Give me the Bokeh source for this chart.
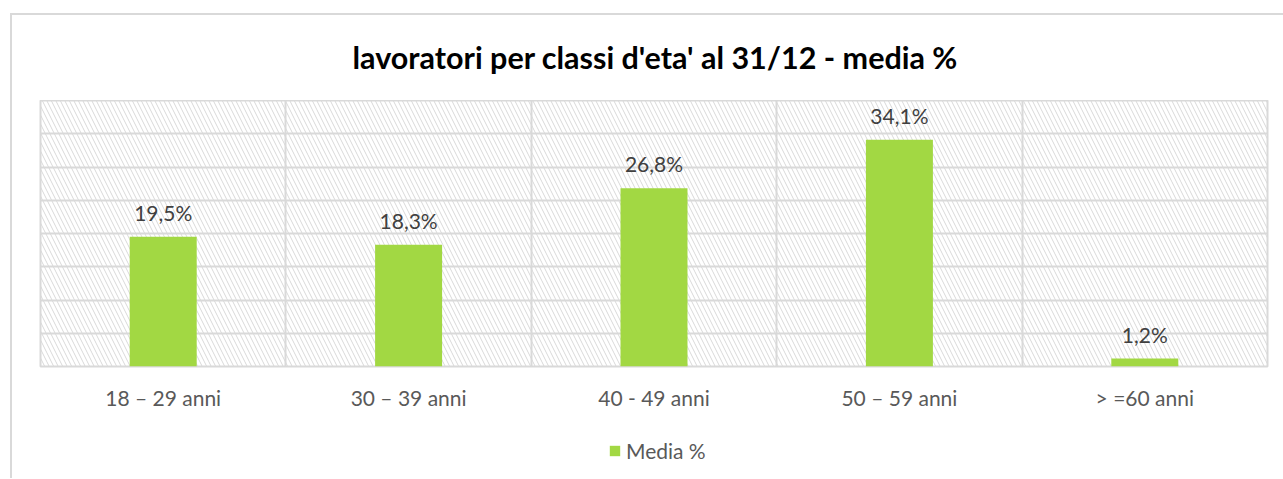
from bokeh.plotting import figure
from bokeh.layouts import column
from bokeh.models import (ColumnDataSource, FixedTicker, LabelSet, BoxAnnotation,
                          Legend, LegendItem, Range1d)
from bokeh.core.properties import value
from bokeh.embed import file_html
from bokeh.resources import INLINE

categories = ["18 – 29 anni", "30 – 39 anni", "40 - 49 anni", "50 – 59 anni", "> =60 anni"]
values = [19.5, 18.3, 26.8, 34.1, 1.2]
labels = ["19,5%", "18,3%", "26,8%", "34,1%", "1,2%"]
series_name = "Media %"
title_text = "lavoratori per classi d'eta' al 31/12 - media %"

FONT = "Lato"
GREEN = "#A2D843"
GRID = "#d9d9d9"

xs = [i + 0.5 for i in range(len(categories))]
src = ColumnDataSource(dict(x=xs, top=values, label=labels, cat=categories))

# ---- title strip ----
p0 = figure(frame_width=1271, frame_height=85, output_backend="svg", toolbar_location=None,
            x_range=Range1d(0, 1), y_range=Range1d(0, 1),
            min_border=0, min_border_left=0, min_border_right=0,
            min_border_top=0, min_border_bottom=0)
p0.styles = {"margin-left": "10px", "margin-top": "13px",
             "border-left": "2px solid #d9d9d9", "border-top": "2px solid #d9d9d9"}
p0.axis.visible = False
p0.grid.visible = False
p0.outline_line_color = None
p0.text(x=[0], y=[0.518], text=[title_text], text_align="left", x_offset=312,
        text_baseline="middle", text_font=value(FONT), text_font_style="bold",
        text_font_size="30.5px", text_color="#000000")

# ---- main chart ----
p = figure(frame_width=1225, frame_height=266, output_backend="svg", toolbar_location=None,
           x_range=Range1d(0, len(categories)), y_range=Range1d(0, 40),
           min_border_left=28, min_border_right=18, min_border_top=0,
           min_border_bottom=50)
p.styles = {"margin-left": "10px", "border-left": "2px solid #d9d9d9"}

# hatched plot background
p.add_layout(BoxAnnotation(fill_alpha=0, line_alpha=0, hatch_pattern="\\",
                           hatch_color="#d9d9d9", hatch_scale=9, hatch_weight=1,
                           hatch_alpha=1.0, level="underlay"))

p.outline_line_color = GRID
p.outline_line_width = 2

p.ygrid.ticker = FixedTicker(ticks=list(range(0, 41, 5)))
p.ygrid.grid_line_color = GRID
p.ygrid.grid_line_width = 2
p.xgrid.ticker = FixedTicker(ticks=list(range(0, len(categories) + 1)))
p.xgrid.grid_line_color = GRID
p.xgrid.grid_line_width = 2

r = p.vbar(x="x", top="top", width=0.273, bottom=0, source=src,
           fill_color=GREEN, line_color=None)

p.add_layout(LabelSet(x="x", y="top", text="label", source=src, text_align="center",
                      text_baseline="bottom", y_offset=12, text_font=value(FONT),
                      text_font_size=value("21px"), text_color=value("#404040")))

p.yaxis.visible = False
p.xaxis.ticker = FixedTicker(ticks=xs)
p.xaxis.major_label_overrides = {x: c for x, c in zip(xs, categories)}
p.xaxis.axis_line_color = None
p.xaxis.major_tick_line_color = None
p.xaxis.minor_tick_line_color = None
p.xaxis.major_label_standoff = 12
p.xaxis.major_label_text_font = FONT
p.xaxis.major_label_text_font_size = "21px"
p.xaxis.major_label_text_color = "#595959"

# ---- legend strip ----
p2 = figure(frame_width=1271, frame_height=62, output_backend="svg", toolbar_location=None,
            x_range=Range1d(0, 1), y_range=Range1d(0, 1),
            min_border=0, min_border_left=0, min_border_right=0,
            min_border_top=0, min_border_bottom=0)
p2.styles = {"margin-left": "10px", "border-left": "2px solid #d9d9d9"}
p2.axis.visible = False
p2.grid.visible = False
p2.outline_line_color = None
lr = p2.vbar(x="x", top="top", width=0.273, source=src, fill_color=GREEN, line_color=None)
lr.visible = False

legend = Legend(items=[LegendItem(label=series_name, renderers=[lr])],
                orientation="horizontal", location=(596, 15),
                label_text_font=FONT, label_text_font_size="21px",
                label_text_color="#595959", glyph_width=13, glyph_height=13,
                border_line_color=None, background_fill_alpha=0,
                inactive_fill_alpha=0, click_policy="none",
                label_standoff=5, margin=0, padding=4)
p2.add_layout(legend, "center")

layout = column(p0, p, p2, spacing=0)
open("out.html", "w").write(file_html(layout, INLINE))
